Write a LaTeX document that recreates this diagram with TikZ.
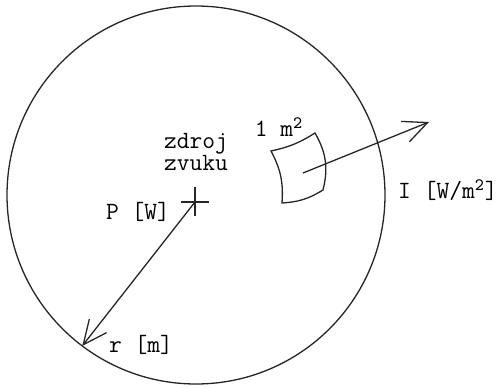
\documentclass[tikz,border=0pt]{standalone}
\usepackage{fontspec}
\usepackage{tikz}
\usetikzlibrary{arrows.meta,calc}
\tikzset{
  sp-line/.style={line width=0.65pt, draw=black!85},
  sp-arrow/.style={sp-line, -{Straight Barb[length=12pt, width=11pt, line width=0.65pt]}},
  sp-label/.style={font=\ttfamily\fontsize{12.4}{10}\selectfont, inner sep=0pt, align=center}
}
\begin{document}
\begin{tikzpicture}[x=0.5pt, y=0.5pt]
\useasboundingbox (0,0) rectangle (499,387);
\coordinate (center) at (196,192);
\coordinate (src) at (195,185);
\coordinate (rim) at ($(center)+(233:189)$);
\coordinate (pTL) at (271,236);
\coordinate (pTR) at (315,254);
\coordinate (pBR) at (323,197);
\coordinate (pBL) at (282,184);
\coordinate (pmid) at (303,214);
\coordinate (itip) at (429,265);

% sphere
\draw[sp-line] (center) circle (189);

% source
\draw[sp-line] ($(src)+(-14,0)$) -- ($(src)+(14,0)$);
\draw[sp-line] ($(src)+(0,-14)$) -- ($(src)+(0,15)$);

% surface patch
\draw[sp-line] (pTL) to[bend right=10] (pTR) to[bend left=22] (pBR)
  to[bend left=14] (pBL) to[bend right=16] cycle;

% arrows
\draw[sp-arrow] (src) -- (rim);
\draw[sp-arrow] (pmid) -- (itip);

% labels
\node[sp-label] (zdroj) at (196,235) {zdroj\\zvuku};
\node[sp-label] (area) at (279,260) {1 m\textsuperscript{2}};
\node[sp-label] (power) at (138,175) {P [W]};
\node[sp-label] (intens) at (448,197) {I [W/m\textsuperscript{2}]};
\node[sp-label] (radius) at (141,42) {r [m]};
\end{tikzpicture}
\end{document}
